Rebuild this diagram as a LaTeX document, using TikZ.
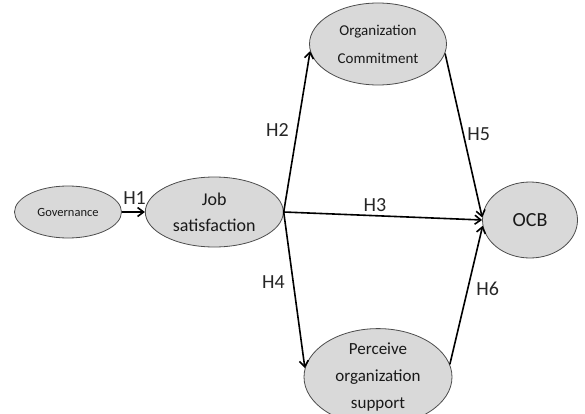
\documentclass[tikz,border=0pt]{standalone}
\usepackage{fontspec}
\setmainfont{Carlito}
\usetikzlibrary{
  shapes.geometric,
  positioning,
  arrows.meta
}

\begin{document}
\begin{tikzpicture}[x=1pt, y=1pt, node distance = 23pt,
    construct/.style = {ellipse, draw=black!70, fill=black!15, line width=0.8pt,
                        inner sep=0pt, align=center, text=black!90},
    path/.style = {-{Straight Barb[length=6pt,width=9pt]}, line width=1.6pt},
    hyp/.style = {font=\fontsize{20}{20}\selectfont, text=black!85}]
    \useasboundingbox (0,0) rectangle (585,-414);

    \node[construct, minimum width=107pt, minimum height=52pt,
          font=\fontsize{12.5}{14}\selectfont] (gov) at (68,-212) {Governance};
    \node[construct, minimum width=138pt, minimum height=70pt,
          font=\fontsize{18}{26}\selectfont, right = of gov] (js) {Job\\satisfaction};
    \node[construct, minimum width=137pt, minimum height=82pt,
          font=\fontsize{15}{28}\selectfont] (oc) at (378,-44) {Organization\\Commitment};
    \node[construct, minimum width=148pt, minimum height=76pt,
          font=\fontsize{17}{27}\selectfont] (pos) at (378,-377) {Perceive\\organization\\support};
    \node[construct, minimum width=95pt, minimum height=76pt,
          font=\fontsize{20}{20}\selectfont] (ocb) at (530,-220) {OCB};

    \coordinate (fork) at (js.east);

    \draw[path] (gov) -- node[hyp, above, pos=.55, yshift=3pt] (h1) {H1} (js);
    \draw[path] (fork) -- node[hyp, left, pos=.5, xshift=-4pt, yshift=2pt] (h2) {H2} (oc.186);
    \draw[path] (fork) -- node[hyp, above, pos=.46] (h3) {H3} (ocb.west);
    \draw[path] (fork) -- node[hyp, left, pos=.43, xshift=-4pt, yshift=-3pt] (h4) {H4} (pos.173);
    \draw[path] (oc.-8) -- node[hyp, right, pos=.49] (h5) {H5} (ocb.177);
    \draw[path] (pos.10) -- node[hyp, right, pos=.56, xshift=4pt, yshift=-2pt] (h6) {H6} (ocb.187);
\end{tikzpicture}
\end{document}
